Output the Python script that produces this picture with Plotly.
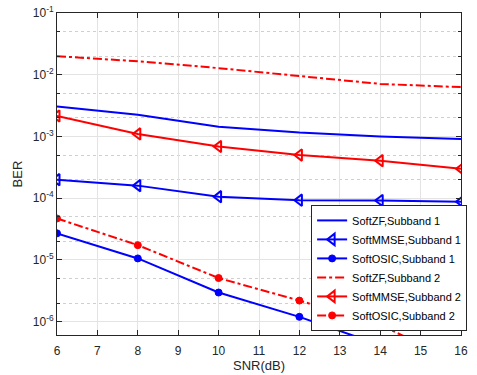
import plotly.graph_objects as go

snr = [6, 8, 10, 12, 14, 16]

zf_sb1 = [3.07e-3, 2.25e-3, 1.44e-3, 1.16e-3, 1.0e-3, 9.1e-4]
mmse_sb1 = [2.0e-4, 1.6e-4, 1.06e-4, 9.3e-5, 9.2e-5, 8.8e-5]
osic_sb1 = [2.7e-5, 1.06e-5, 2.97e-6, 1.2e-6, 4.2e-7, 1.1e-7]
zf_sb2 = [2.0e-2, 1.65e-2, 1.28e-2, 9.5e-3, 7.1e-3, 6.3e-3]
mmse_sb2 = [2.15e-3, 1.1e-3, 6.9e-4, 5.0e-4, 4.06e-4, 3.0e-4]
osic_sb2 = [4.7e-5, 1.74e-5, 5.1e-6, 2.2e-6, 8.9e-7, 2.1e-7]

names = ["SoftZF,Subband 1", "SoftMMSE,Subband 1", "SoftOSIC,Subband 1",
         "SoftZF,Subband 2", "SoftMMSE,Subband 2", "SoftOSIC,Subband 2"]

ytick_vals = [1e-6, 1e-5, 1e-4, 1e-3, 1e-2, 1e-1]
ytick_text = ["10<sup>-6</sup>", "10<sup>-5</sup>", "10<sup>-4</sup>",
              "10<sup>-3</sup>", "10<sup>-2</sup>", "10<sup>-1</sup>"]
xtick_vals = list(range(6, 17))

BLUE = "#0000ff"
RED = "#ff0000"
FONT = "Liberation Sans, Arial, Helvetica"

series = [
    (zf_sb1, BLUE, "solid", None),
    (mmse_sb1, BLUE, "solid", "triangle-left-open"),
    (osic_sb1, BLUE, "solid", "circle"),
    (zf_sb2, RED, "dashdot", None),
    (mmse_sb2, RED, "solid", "triangle-left-open"),
    (osic_sb2, RED, "dashdot", "circle"),
]

fig = go.Figure()
for (vals, col, dash, sym), nm in zip(series, names):
    if sym is None:
        fig.add_trace(go.Scatter(x=snr, y=vals, name=nm, mode="lines",
                                 line=dict(color=col, width=2, dash=dash)))
    else:
        fig.add_trace(go.Scatter(
            x=snr, y=vals, name=nm, mode="lines+markers",
            line=dict(color=col, width=2, dash=dash),
            marker=dict(symbol=sym, size=7 if sym == "circle" else 10,
                        color=col, line=dict(color=col, width=2 if sym != "circle" else 1))))

axis_common = dict(
    showline=True, linecolor="#262626", linewidth=1, mirror="allticks",
    ticks="inside", ticklen=5, tickcolor="#262626",
    showgrid=True, gridcolor="#e3e3e3", gridwidth=1,
    tickfont=dict(family=FONT, size=12, color="#262626"),
    zeroline=False, automargin=False,
)

fig.update_xaxes(range=[6, 16], tickvals=xtick_vals, ticklabelstandoff=5,
                 title=dict(text="SNR(dB)", standoff=3,
                            font=dict(family=FONT, size=13, color="#262626")),
                 **axis_common)
fig.update_yaxes(type="log", range=[-6.215, -1], tickvals=ytick_vals, ticktext=ytick_text,
                 title=dict(text="BER", standoff=7,
                            font=dict(family=FONT, size=13, color="#262626")),
                 minor=dict(ticks="inside", ticklen=3, tickcolor="#262626",
                            showgrid=True, gridcolor="#cfcfcf", griddash="dot", gridwidth=1),
                 **axis_common)

fig.update_layout(
    width=477, height=375,
    margin=dict(l=57, r=10, t=13, b=40),
    paper_bgcolor="white", plot_bgcolor="white",
    font=dict(family=FONT, size=12, color="#262626"),
    legend=dict(x=0.629, y=0.404, xanchor="left", yanchor="top",
                bgcolor="white", bordercolor="#262626", borderwidth=1,
                font=dict(family=FONT, size=11, color="black"),
                tracegroupgap=0, itemwidth=30),
    showlegend=True,
)

fig.write_html("out.html")
